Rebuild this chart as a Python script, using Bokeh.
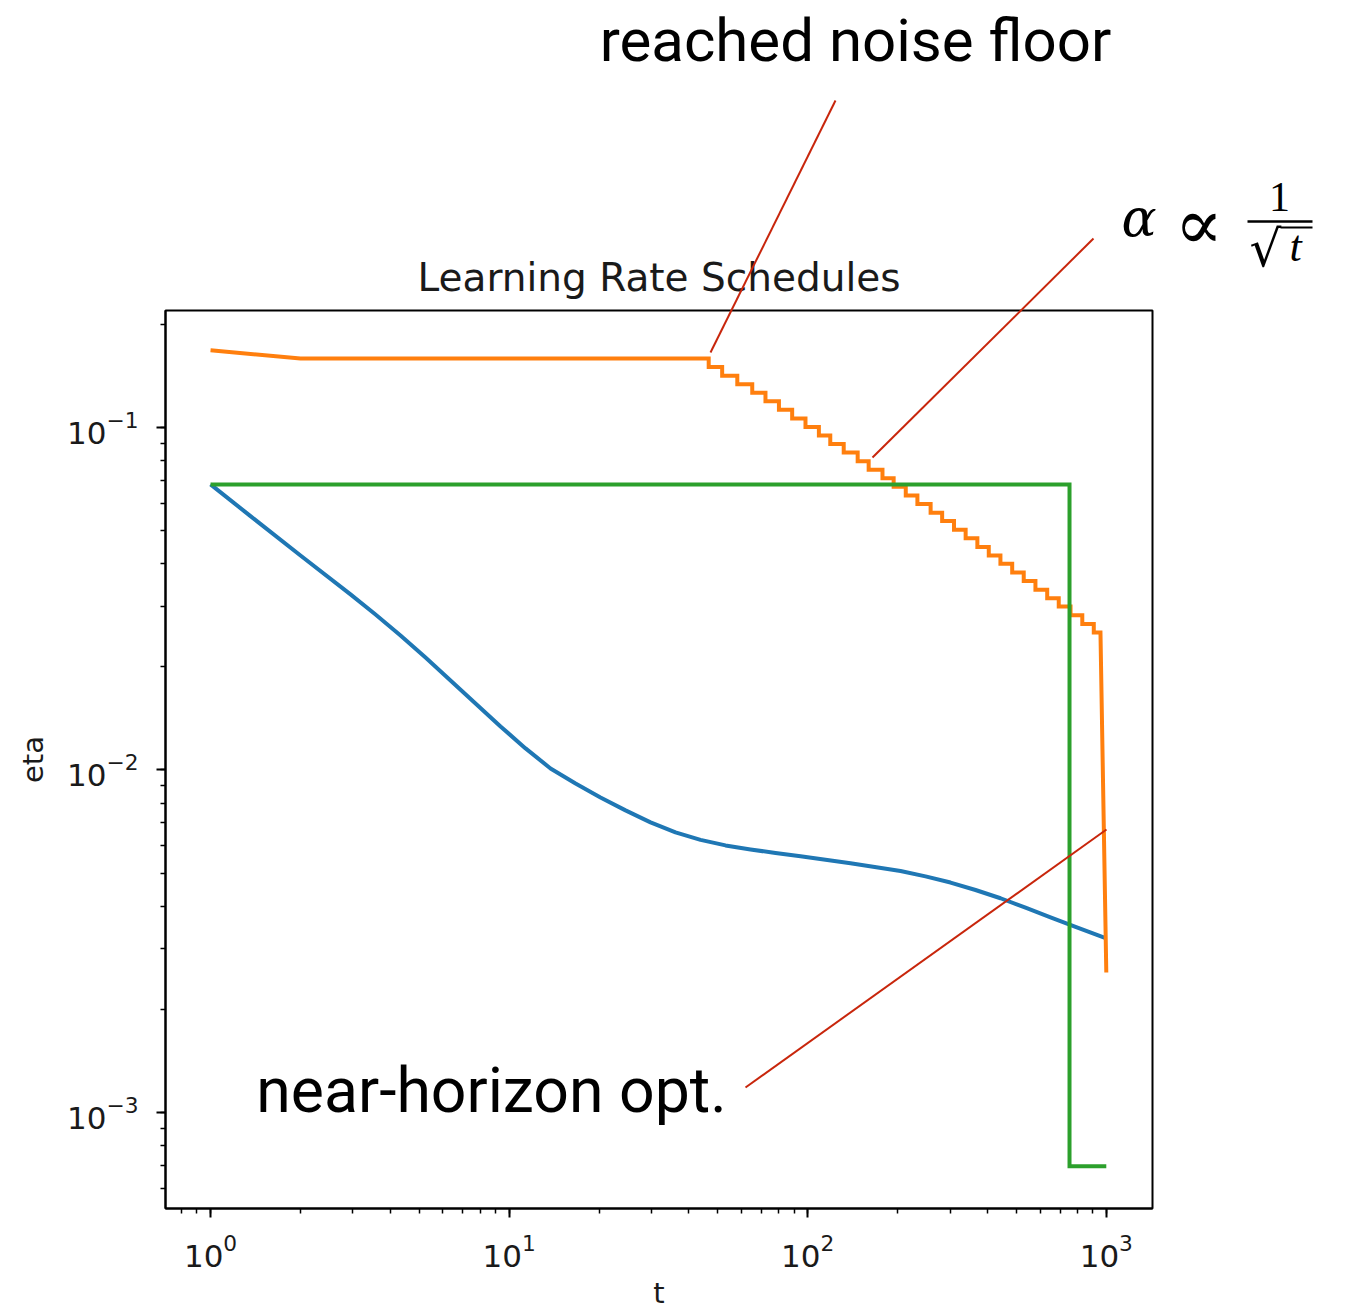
from bokeh.plotting import figure
from bokeh.models import Label, Range1d
from bokeh.embed import file_html
from bokeh.resources import INLINE

# ---- data -------------------------------------------------------------
# near-horizon optimal schedule
blue_t = [1, 1.361, 2.001, 2.943, 3.569, 4.328, 5.248, 6.364, 7.717, 9.359,
          11.35, 13.76, 16.69, 20.23, 24.54, 29.76, 36.08, 43.76, 53.06, 64.34,
          78.02, 94.61, 139.1, 204.6, 248.1, 300.8, 364.8, 442.3, 536.3, 650.4,
          788.7, 1000]
blue_eta = [0.06820, 0.05511, 0.04229, 0.03255, 0.02844, 0.02470, 0.02130,
            0.01825, 0.01564, 0.01340, 0.01156, 0.01010, 0.00913, 0.00831,
            0.00762, 0.00703, 0.00657, 0.00625, 0.00602, 0.00586, 0.00572,
            0.00560, 0.00534, 0.00507, 0.00489, 0.00469, 0.00446, 0.00422,
            0.00396, 0.00371, 0.00348, 0.00322]

# 1/sqrt(t) style schedule: warm plateau, then a staircase, then a final cut
orange_head_t = [1, 2]
orange_head_eta = [0.168, 0.159]
orange_step_t = [46.6, 51.7, 58.1, 65.2, 72.2, 80.1, 88.7, 98.3, 109, 119, 132,
                 147, 160, 178, 194, 213, 233, 258, 282, 309, 338, 370, 404,
                 442, 484, 529, 579, 634, 693, 759, 831, 908]
orange_step_eta = [0.1501, 0.1417, 0.1338, 0.1263, 0.1192, 0.1126, 0.1063,
                   0.1004, 0.0947, 0.0895, 0.0845, 0.0797, 0.0753, 0.0711,
                   0.0671, 0.0633, 0.0598, 0.0564, 0.0533, 0.0503, 0.0475,
                   0.0448, 0.0423, 0.0400, 0.0377, 0.0356, 0.0336, 0.0317,
                   0.0300, 0.0283, 0.0267, 0.0252]
orange_tail_t = [956, 1000]
orange_tail_eta = [0.0252, 0.00256]

# constant rate with a single late drop
green_t = [1, 753, 753, 1000]
green_eta = [0.0682, 0.0682, 0.000696, 0.000696]

# ---- staircase path ---------------------------------------------------
orange_t = list(orange_head_t)
orange_eta = list(orange_head_eta)
level = orange_head_eta[-1]
for t, lv in zip(orange_step_t, orange_step_eta):
    orange_t += [t, t]
    orange_eta += [level, lv]
    level = lv
orange_t += orange_tail_t
orange_eta += orange_tail_eta

W, H = 1345, 1314

# ---- main chart -------------------------------------------------------
p = figure(width=W, height=H,
           x_axis_type="log", y_axis_type="log",
           x_range=Range1d(0.7066, 1428), y_range=Range1d(0.000524, 0.2196),
           min_border_left=165, min_border_right=193,
           min_border_top=310, min_border_bottom=106,
           output_backend="svg", toolbar_location=None,
           title="Learning Rate Schedules")

p.background_fill_color = "white"
p.border_fill_color = "white"
p.outline_line_color = "black"
p.outline_line_width = 2
p.outline_line_alpha = 1
p.grid.grid_line_color = None

p.title.align = "center"
p.title.text_font = "DejaVu Sans"
p.title.text_font_style = "normal"
p.title.text_font_size = "39px"
p.title.text_color = "#1a1a1a"
p.title.standoff = 21

p.xaxis.axis_label = "t"
p.yaxis.axis_label = "eta"
for ax in (p.xaxis[0], p.yaxis[0]):
    ax.major_label_text_font = "DejaVu Sans"
    ax.major_label_text_font_size = "31px"
    ax.major_label_text_color = "#1a1a1a"
    ax.axis_label_text_font = "DejaVu Sans"
    ax.axis_label_text_font_size = "29px"
    ax.axis_label_text_font_style = "normal"
    ax.axis_label_text_color = "#1a1a1a"
    ax.axis_line_color = "black"
    ax.axis_line_width = 2
    ax.major_tick_line_color = "black"
    ax.major_tick_line_width = 2
    ax.minor_tick_line_color = "black"
    ax.minor_tick_line_width = 1.5
    ax.major_tick_out = 9
    ax.major_tick_in = 0
    ax.minor_tick_out = 5
    ax.minor_tick_in = 0
p.xaxis.major_label_standoff = 16
p.yaxis.major_label_standoff = 18
p.xaxis.axis_label_standoff = 6
p.yaxis.axis_label_standoff = 14

LW = 4
p.line(blue_t, blue_eta, line_color="#1f77b4", line_width=LW, line_join="round")
p.line(orange_t, orange_eta, line_color="#ff7f0e", line_width=LW, line_join="miter")
p.line(green_t, green_eta, line_color="#2ca02c", line_width=LW, line_join="miter")

# ---- annotation layer (page pixel coordinates, y downwards) ------------
# a transparent full-page plot laid over the chart, so that callouts can
# sit outside the chart's frame
ov = figure(width=W, height=H, x_range=Range1d(0, W), y_range=Range1d(H, 0),
            x_axis_type=None, y_axis_type=None, min_border=0,
            output_backend="svg", toolbar_location=None,
            margin=(-H, 0, 0, 0))
ov.background_fill_alpha = 0
ov.border_fill_alpha = 0
ov.outline_line_color = None
ov.grid.grid_line_color = None

RED = "#c8260c"
# leader lines: noise floor, 1/sqrt(t), near-horizon
lead_x0 = [835, 1093, 745]
lead_y0 = [100, 238, 1087]
lead_x1 = [710, 872, 1106]
lead_y1 = [352, 457, 829]
ov.segment(lead_x0, lead_y0, lead_x1, lead_y1, line_color=RED, line_width=2)

BASE_SHIFT = 0.37  # baseline correction, in em


def text_at(X, Y, txt, size, font="Roboto", style="normal", align="left"):
    ov.add_layout(Label(x=X, y=Y - BASE_SHIFT * size, text=txt,
                        text_font=font, text_font_style=style,
                        text_font_size=f"{size}px", text_color="black",
                        text_align=align, text_baseline="alphabetic"))


text_at(855, 62, "reached noise floor", 60, align="center")
text_at(491, 1113, "near-horizon opt.", 62.5, align="center")

# alpha ∝ 1/sqrt(t)
text_at(1121, 237, "α", 52, font="DejaVu Serif", style="italic")
text_at(1174, 250, "∝", 72, font="DejaVu Serif")
text_at(1279, 212, "1", 42, font="Liberation Serif", align="center")
text_at(1249, 267, "√", 50, font="DejaVu Serif")
text_at(1289, 262, "t", 44, font="Liberation Serif", style="italic")
ov.segment([1247, 1280], [221, 227], [1312, 1312], [221, 227],
           line_color="black", line_width=[2.5, 2])

open("out.html", "w").write(file_html([p, ov], INLINE))
